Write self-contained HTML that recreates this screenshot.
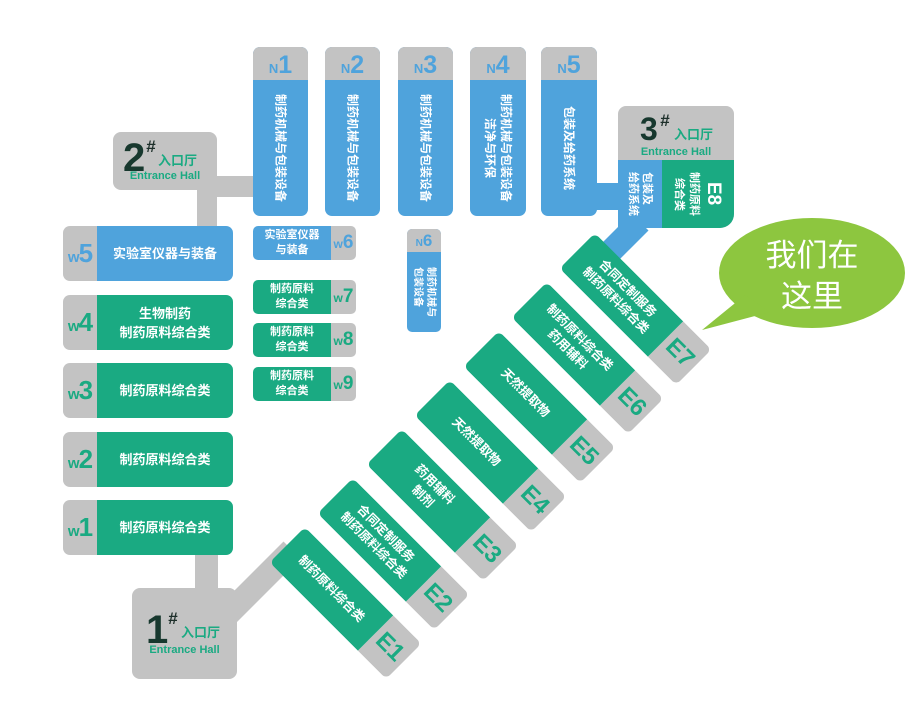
<!DOCTYPE html>
<html><head><meta charset="utf-8"><style>
*{margin:0;padding:0;box-sizing:border-box}
body{width:921px;height:711px;background:#fff;position:relative;overflow:hidden;font-family:"Liberation Sans","Noto Sans CJK SC",sans-serif;font-weight:bold}
.a{position:absolute}
.g{background:#c3c3c3}
.gr{background:#1aaa82}
.bl{background:#4fa3dc}
.t{color:#fff;font-size:12px;text-align:center;line-height:16px}
.v{writing-mode:vertical-rl;text-orientation:sideways;display:flex;align-items:center;justify-content:center}
.nh{position:absolute;left:0;right:0;top:0;height:33px;text-align:center;color:#4fa3dc;font-size:25px;line-height:36px}
.nh small{font-size:13px}
.w{position:absolute;left:63px;width:170px;height:55px;border-radius:7px;overflow:hidden;display:flex}
.w .l{width:34px;background:#c3c3c3;font-size:26px;line-height:55px;text-align:center;letter-spacing:-1px}
.w .l small{font-size:15px}
.w .c{flex:1;display:flex;align-items:center;justify-content:center;color:#fff;font-size:13px;line-height:19px;text-align:center}
.s{position:absolute;left:253px;width:103px;height:34px;border-radius:5px;overflow:hidden;display:flex}
.s .c{width:78px;display:flex;align-items:center;justify-content:center;color:#fff;font-size:11px;line-height:15px;text-align:center}
.s .l{flex:1;background:#c3c3c3;font-size:19px;line-height:34px;text-align:center}
.s .l small{font-size:12px}
.e{position:absolute;width:165px;height:50px;border-radius:6px;overflow:hidden;display:flex;transform:rotate(45deg)}
.e .c{width:125px;background:#1aaa82;display:flex;align-items:center;justify-content:center;color:#fff;font-size:12.5px;line-height:17px;text-align:center}
.e .l{flex:1;background:#c3c3c3;color:#1aaa82;font-size:24px;line-height:50px;text-align:center}
.hall{position:absolute;background:#c3c3c3;border-radius:8px}
.hn{position:absolute;color:#17382e;font-size:40px;line-height:40px}
.hs{position:absolute;color:#1d2f2a;font-size:17px;line-height:17px;font-style:italic}
.hz{position:absolute;color:#1aaa82;font-size:13px;line-height:14px;white-space:nowrap}
.he{position:absolute;color:#1aaa82;font-size:11px;line-height:12px;text-align:center;left:0;right:0}
</style></head><body>
<svg class="a" style="left:0;top:0" width="921" height="711">
<g stroke="#c3c3c3" fill="#c3c3c3">
<rect x="195" y="540" width="23" height="60" stroke="none"/>
<line x1="222" y1="620" x2="292" y2="550" stroke-width="24"/>
<rect x="197" y="170" width="20" height="60" stroke="none"/>
<rect x="212" y="176" width="45" height="21" stroke="none"/>
</g>
<rect x="590" y="183" width="35" height="27" fill="#4fa3dc"/>
<line x1="640" y1="222" x2="606" y2="256" stroke="#4fa3dc" stroke-width="24"/>
<ellipse cx="812" cy="273" rx="93" ry="55" fill="#8dc63f"/>
<polygon points="745,295 702,330 770,312" fill="#8dc63f"/>
<text x="812" y="266" fill="#fff" font-size="31" font-weight="normal" text-anchor="middle" font-family="Liberation Sans,Noto Sans CJK SC,sans-serif">我们在</text>
<text x="812" y="307" fill="#fff" font-size="31" font-weight="normal" text-anchor="middle" font-family="Liberation Sans,Noto Sans CJK SC,sans-serif">这里</text>
</svg>

<div class="a bl" style="left:253px;top:47px;width:55px;height:169px;border-radius:7px;overflow:hidden"><div class="nh g"><small>N</small>1</div><div class="a t v" style="left:0;right:0;top:33px;bottom:0">制药机械与包装设备</div></div>
<div class="a bl" style="left:325px;top:47px;width:55px;height:169px;border-radius:7px;overflow:hidden"><div class="nh g"><small>N</small>2</div><div class="a t v" style="left:0;right:0;top:33px;bottom:0">制药机械与包装设备</div></div>
<div class="a bl" style="left:398px;top:47px;width:55px;height:169px;border-radius:7px;overflow:hidden"><div class="nh g"><small>N</small>3</div><div class="a t v" style="left:0;right:0;top:33px;bottom:0">制药机械与包装设备</div></div>
<div class="a bl" style="left:470px;top:47px;width:56px;height:169px;border-radius:7px;overflow:hidden"><div class="nh g"><small>N</small>4</div><div class="a t v" style="left:0;right:0;top:33px;bottom:0">制药机械与包装设备<br>洁净与环保</div></div>
<div class="a bl" style="left:541px;top:47px;width:56px;height:169px;border-radius:7px;overflow:hidden"><div class="nh g"><small>N</small>5</div><div class="a t v" style="left:0;right:0;top:33px;bottom:0">包装及给药系统</div></div>
<div class="a bl" style="left:407px;top:229px;width:34px;height:103px;border-radius:5px;overflow:hidden"><div class="nh g" style="height:23px;font-size:17px;line-height:24px"><small style="font-size:10px">N</small>6</div><div class="a v" style="left:0;right:0;top:23px;bottom:0;color:#fff;font-size:10px;line-height:13px">制药机械与<br>包装设备</div></div>

<div class="hall" style="left:113px;top:132px;width:104px;height:58px"><span class="hn" style="left:10px;top:6px">2</span><span class="hs" style="left:33px;top:6px">#</span><span class="hz" style="left:45px;top:22px">入口厅</span><div class="he" style="top:38px">Entrance Hall</div></div>
<div class="hall" style="left:132px;top:588px;width:105px;height:91px"><span class="hn" style="left:14px;top:22px">1</span><span class="hs" style="left:36px;top:22px">#</span><span class="hz" style="left:49px;top:38px">入口厅</span><div class="he" style="top:56px">Entrance Hall</div></div>
<div class="hall" style="left:618px;top:106px;width:116px;height:122px;border-radius:8px 8px 14px 0;overflow:hidden">
<span class="hn" style="left:22px;top:7px;font-size:32px;line-height:32px">3</span><span class="hs" style="left:42px;top:6px">#</span><span class="hz" style="left:56px;top:22px">入口厅</span><div class="he" style="top:40px">Entrance Hall</div>
<div class="a bl v" style="left:0;top:54px;width:44px;height:68px;color:#fff;font-size:11px;line-height:14px">包装及<br>给药系统</div>
<div class="a gr v" style="left:44px;top:54px;width:72px;height:68px;color:#fff;font-size:11px;line-height:15px"><div style="text-align:center"><span style="font-size:19px;line-height:24px">E8</span><br>制药原料<br>综合类</div></div>
</div>

<div class="w" style="top:226px"><div class="l" style="color:#4fa3dc"><small>w</small>5</div><div class="c bl">实验室仪器与装备</div></div>
<div class="w" style="top:295px"><div class="l" style="color:#1aaa82"><small>w</small>4</div><div class="c gr">生物制药<br>制药原料综合类</div></div>
<div class="w" style="top:363px"><div class="l" style="color:#1aaa82"><small>w</small>3</div><div class="c gr">制药原料综合类</div></div>
<div class="w" style="top:432px"><div class="l" style="color:#1aaa82"><small>w</small>2</div><div class="c gr">制药原料综合类</div></div>
<div class="w" style="top:500px"><div class="l" style="color:#1aaa82"><small>w</small>1</div><div class="c gr">制药原料综合类</div></div>

<div class="s" style="top:226px"><div class="c bl">实验室仪器<br>与装备</div><div class="l" style="color:#4fa3dc"><small>w</small>6</div></div>
<div class="s" style="top:280px"><div class="c gr">制药原料<br>综合类</div><div class="l" style="color:#1aaa82"><small>w</small>7</div></div>
<div class="s" style="top:323px"><div class="c gr">制药原料<br>综合类</div><div class="l" style="color:#1aaa82"><small>w</small>8</div></div>
<div class="s" style="top:367px"><div class="c gr">制药原料<br>综合类</div><div class="l" style="color:#1aaa82"><small>w</small>9</div></div>

<div class="e" style="left:263px;top:578px"><div class="c">制药原料综合类</div><div class="l">E1</div></div>
<div class="e" style="left:311px;top:529px"><div class="c">合同定制服务<br>制药原料综合类</div><div class="l">E2</div></div>
<div class="e" style="left:360px;top:480px"><div class="c">药用辅料<br>制剂</div><div class="l">E3</div></div>
<div class="e" style="left:408px;top:431px"><div class="c">天然提取物</div><div class="l">E4</div></div>
<div class="e" style="left:457px;top:382px"><div class="c">天然提取物</div><div class="l">E5</div></div>
<div class="e" style="left:505px;top:333px"><div class="c">制药原料综合类<br>药用辅料</div><div class="l">E6</div></div>
<div class="e" style="left:553px;top:284px"><div class="c">合同定制服务<br>制药原料综合类</div><div class="l">E7</div></div>
</body></html>
